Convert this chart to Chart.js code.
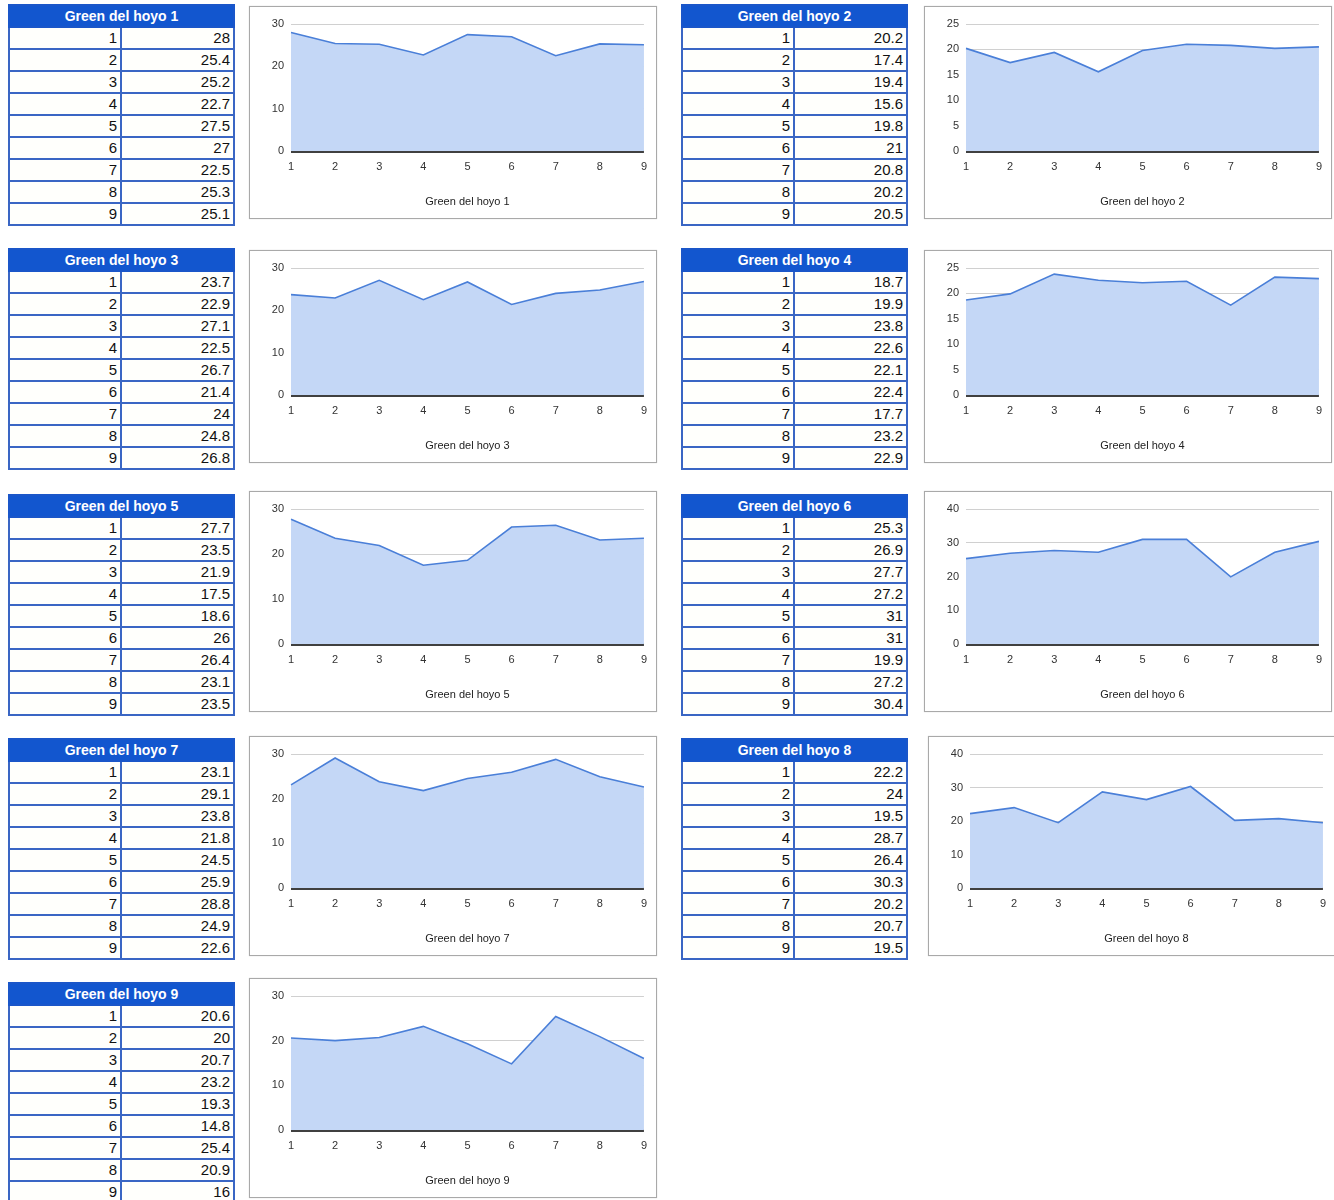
<!DOCTYPE html>
<html>
<head>
<meta charset="utf-8">
<script src="https://cdn.jsdelivr.net/npm/chart.js@4.4.1/dist/chart.umd.min.js"></script>
<style>
  body { margin: 0; background: #fff; font-family: "Liberation Sans", Arial, sans-serif; }
  #page { position: relative; width: 1334px; height: 1200px; }
  table.sheet {
    position: absolute;
    border-collapse: collapse;
    width: 225px;
    table-layout: fixed;
    font-size: 15px;
    color: #111;
  }
  table.sheet th {
    background: #1256cf;
    color: #fff;
    font-size: 14px;
    font-weight: bold;
    height: 20px;
    padding: 0;
    border: 2px solid #1a56c9;
    text-align: center;
  }
  table.sheet td {
    height: 20px;
    padding: 0 3px 0 0;
    border: 2px solid #3a66c4;
    text-align: right;
    line-height: 20px;
    background: #fffffc;
  }
  .box {
    position: absolute;
    width: 406px;
    border: 1px solid #a9a9a9;
    box-shadow: 0 0 1px #ccc;
    background: #fff;
  }
  .box canvas { display: block; }
</style>
</head>
<body>
<div id="page"></div>
<script>
// values per hole, one array each
const holes = [1, 2, 3, 4, 5, 6, 7, 8, 9];
const hoyo1 = [28, 25.4, 25.2, 22.7, 27.5, 27, 22.5, 25.3, 25.1];
const hoyo2 = [20.2, 17.4, 19.4, 15.6, 19.8, 21, 20.8, 20.2, 20.5];
const hoyo3 = [23.7, 22.9, 27.1, 22.5, 26.7, 21.4, 24, 24.8, 26.8];
const hoyo4 = [18.7, 19.9, 23.8, 22.6, 22.1, 22.4, 17.7, 23.2, 22.9];
const hoyo5 = [27.7, 23.5, 21.9, 17.5, 18.6, 26, 26.4, 23.1, 23.5];
const hoyo6 = [25.3, 26.9, 27.7, 27.2, 31, 31, 19.9, 27.2, 30.4];
const hoyo7 = [23.1, 29.1, 23.8, 21.8, 24.5, 25.9, 28.8, 24.9, 22.6];
const hoyo8 = [22.2, 24, 19.5, 28.7, 26.4, 30.3, 20.2, 20.7, 19.5];
const hoyo9 = [20.6, 20, 20.7, 23.2, 19.3, 14.8, 25.4, 20.9, 16];

const series = [hoyo1, hoyo2, hoyo3, hoyo4, hoyo5, hoyo6, hoyo7, hoyo8, hoyo9];
const titles = holes.map(n => 'Green del hoyo ' + n);
// y axis range and step for each chart
const axisMax = [30, 25, 30, 25, 30, 40, 30, 40, 30];
const axisStep = [10, 5, 10, 5, 10, 10, 10, 10, 10];

// layout of the 2-column grid
const tableLeft = [8, 681];
const tableTop = [4, 248, 494, 738, 982];
const boxLeft = [249, 924];
const boxTop = [6, 250, 491, 736, 978];
const boxHeight = [213, 213, 221, 220, 220];

const page = document.getElementById('page');

series.forEach((values, i) => {
    const col = i % 2;
    const row = Math.floor(i / 2);

    // data table
    const table = document.createElement('table');
    table.className = 'sheet';
    table.style.left = tableLeft[col] + 'px';
    table.style.top = tableTop[row] + 'px';
    let html = '<colgroup><col style="width:112px"><col style="width:113px"></colgroup>';
    html += '<tr><th colspan="2">' + titles[i] + '</th></tr>';
    holes.forEach((h, k) => {
        html += '<tr><td>' + h + '</td><td>' + values[k] + '</td></tr>';
    });
    table.innerHTML = html;
    page.appendChild(table);

    // chart box
    const box = document.createElement('div');
    box.className = 'box';
    box.style.left = (boxLeft[col] + (i === 7 ? 4 : 0)) + 'px';
    box.style.top = boxTop[row] + 'px';
    box.style.height = (boxHeight[row] - 2) + 'px';
    const canvas = document.createElement('canvas');
    canvas.width = 406;
    canvas.height = boxHeight[row] - 2;
    box.appendChild(canvas);
    page.appendChild(box);

    new Chart(canvas.getContext('2d'), {
        type: 'line',
        data: {
            labels: holes,
            datasets: [{
                data: values,
                borderColor: '#4a7fd8',
                backgroundColor: '#c4d7f6',
                borderWidth: 1.6,
                fill: 'origin',
                tension: 0,
                pointRadius: 0
            }]
        },
        options: {
            responsive: false,
            animation: false,
            layout: { padding: { left: 0, right: 9, top: 17, bottom: 9 } },
            plugins: { legend: { display: false }, tooltip: { enabled: false } },
            scales: {
                x: {
                    grid: { display: false, drawTicks: false },
                    border: { display: false },
                    ticks: {
                        color: '#333',
                        font: { family: 'Liberation Sans', size: 11 },
                        padding: 9,
                        maxRotation: 0
                    },
                    title: {
                        display: true,
                        text: titles[i],
                        color: '#222',
                        font: { family: 'Liberation Sans', size: 11 },
                        padding: 0
                    },
                    afterFit: axis => { axis.height = 58; }
                },
                y: {
                    min: 0,
                    max: axisMax[i],
                    border: { display: false },
                    grid: {
                        drawTicks: false,
                        color: ctx => ctx.tick.value === 0 ? '#404040' : '#d0d0d0',
                        lineWidth: ctx => ctx.tick.value === 0 ? 3 : 1
                    },
                    ticks: {
                        stepSize: axisStep[i],
                        color: '#333',
                        font: { family: 'Liberation Sans', size: 11 },
                        padding: 7
                    },
                    afterFit: axis => { axis.width = 41; }
                }
            }
        }
    });
});
</script>
</body>
</html>
